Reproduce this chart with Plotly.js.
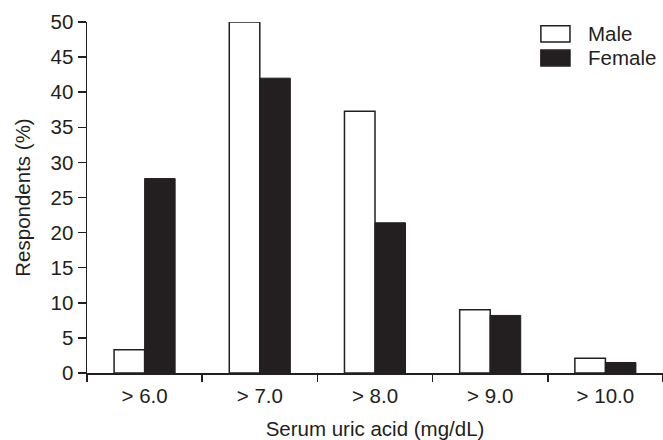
<!DOCTYPE html>
<html>
<head>
<meta charset="utf-8">
<script src="https://cdn.plot.ly/plotly-3.0.1.min.js"></script>
<style>html,body{margin:0;padding:0;background:#fff;}</style>
</head>
<body>
<div id="chart" style="width:663px;height:440px;"></div>
<script>
const categories = ["> 6.0", "> 7.0", "> 8.0", "> 9.0", "> 10.0"];
const maleValues = [3.3, 50.0, 37.3, 9.0, 2.1];
const femaleValues = [27.7, 42.0, 21.4, 8.2, 1.5];
const seriesNames = ["Male", "Female"];

const ink = "#231f20";
const font = {family: "Liberation Sans, Arial, sans-serif", size: 20.5, color: ink};

const traces = [
  {type: "bar", name: seriesNames[0], x: categories, y: maleValues,
   marker: {color: "#ffffff", line: {color: ink, width: 1.5}}},
  {type: "bar", name: seriesNames[1], x: categories, y: femaleValues,
   marker: {color: ink, line: {color: ink, width: 1}}}
];

const legendBoxes = [
  {fill: "#ffffff", y0: 0.943, y1: 0.989, ty: 0.966},
  {fill: ink, y0: 0.875, y1: 0.920, ty: 0.8975}
];
const shapes = legendBoxes.map(b => ({
  type: "rect", xref: "paper", yref: "paper", x0: 0.788, x1: 0.8385, y0: b.y0, y1: b.y1,
  fillcolor: b.fill, line: {color: ink, width: 1.5}
}));
const annotations = legendBoxes.map((b, i) => ({
  xref: "paper", yref: "paper", x: 0.866, y: b.ty, xanchor: "left", yanchor: "middle",
  text: seriesNames[i], showarrow: false, font: font
}));

const layout = {
  width: 663, height: 440,
  margin: {l: 87, r: 0, t: 22, b: 67},
  paper_bgcolor: "#fff", plot_bgcolor: "#fff",
  font: font,
  showlegend: false,
  barmode: "group", bargap: 0.47, bargroupgap: 0,
  xaxis: {
    type: "category", showline: true, linecolor: ink, linewidth: 1.5,
    ticks: "outside", tickson: "boundaries", ticklen: 7, tickwidth: 1.5, tickcolor: ink,
    ticklabelstandoff: 4,
    showgrid: false, zeroline: false, tickfont: font,
    title: {text: "Serum uric acid (mg/dL)", font: font, standoff: 15}
  },
  yaxis: {
    range: [0, 50], dtick: 5, showline: true, linecolor: ink, linewidth: 1.5,
    ticks: "outside", ticklen: 8, tickwidth: 1.5, tickcolor: ink,
    showgrid: false, zeroline: false, tickfont: font,
    title: {text: "Respondents (%)", font: font, standoff: 14}
  },
  shapes: shapes,
  annotations: annotations
};

Plotly.newPlot("chart", traces, layout, {displayModeBar: false, staticPlot: true});
</script>
</body>
</html>
